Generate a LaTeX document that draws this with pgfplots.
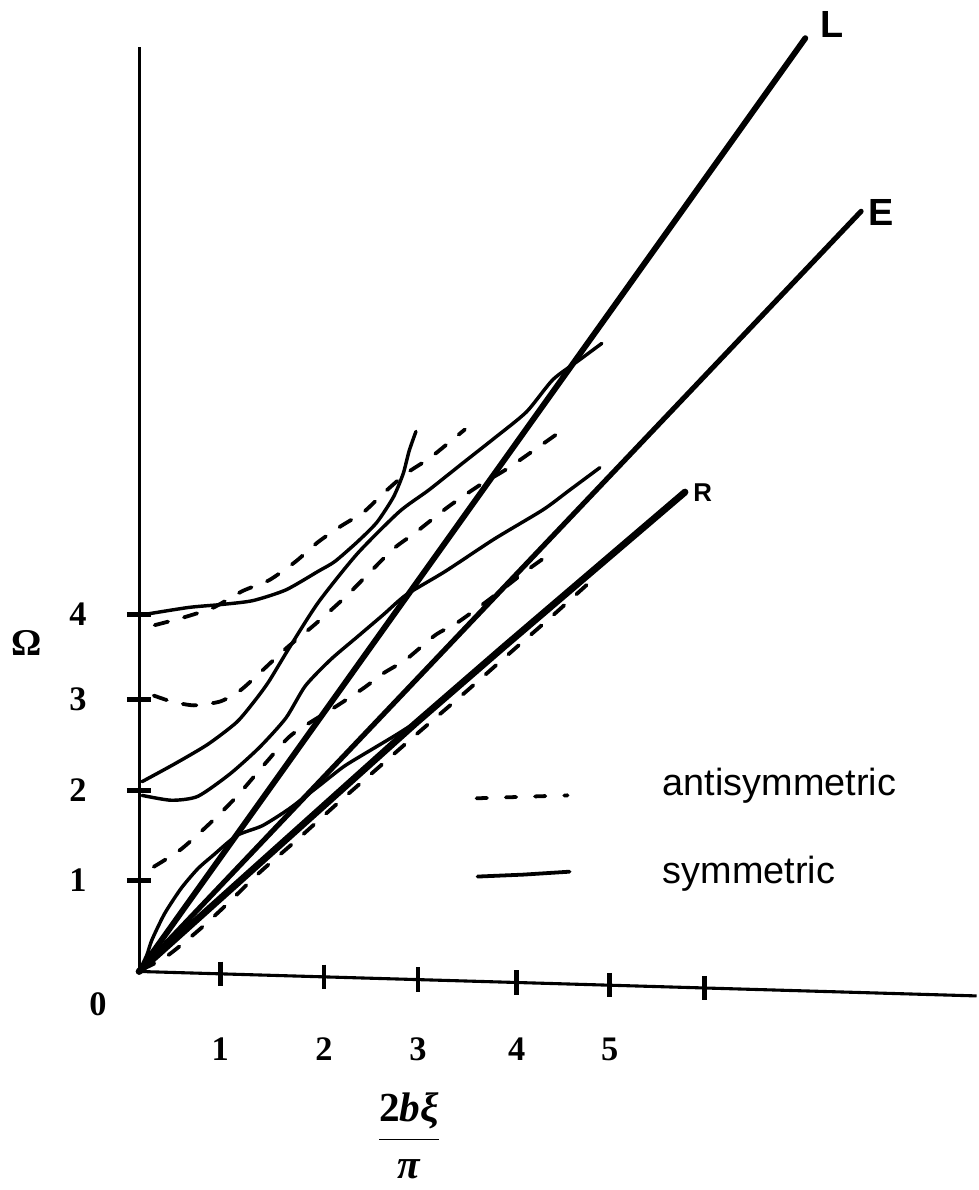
\documentclass[border=0pt]{standalone}
\usepackage{pgfplots}
\pgfplotsset{compat=1.18}
\usepackage{fontspec}
\setmainfont{Liberation Serif}
\newfontfamily\sansf{Liberation Sans}

\begin{document}
\begin{tikzpicture}
\begin{axis}[
  x=1cm, y=1cm,
  xmin=0, xmax=8.56, ymin=0, ymax=9.45,
  enlargelimits=false,
  axis lines=left,
  axis line style={-, line width=0.9pt},
  x axis line style={draw=none},
  clip=false,
  tick align=center,
  major tick length=0.25cm,
  tick style={line width=1.3pt, black},
  xtick style={draw=none},
  xtick={0.83,1.89,2.85,3.86,4.81,5.78},
  xticklabels={1,2,3,4,5,{}},
  ytick={0.93,1.85,2.78,3.65},
  yticklabels={1,2,3,4},
  ticklabel style={font=\fontsize{10}{12}\selectfont\bfseries, anchor=center},
  xticklabel style={yshift=-0.67cm},
  yticklabel style={xshift=-0.5cm},
  every axis plot/.append style={black, line cap=round, line join=round},
  sym/.style={line width=1pt, smooth, tension=0.4},
  anti/.style={line width=1.1pt, smooth, tension=0.4, dash pattern=on 4pt off 4.8pt},
]

% hand-drawn x axis, slightly tilted, with its ticks
\addplot[line width=0.9pt, line cap=butt] coordinates {(0,0) (8.56,-0.25)};
\addplot[only marks, mark=|, mark size=0.125cm, mark options={line width=1.3pt, line cap=butt}]
  coordinates {(0.83,-0.024) (1.89,-0.055) (2.85,-0.083) (3.86,-0.113) (4.81,-0.140) (5.78,-0.169)};

% straight lines L, E, R
\addplot[line width=1.7pt] coordinates {(0,0) (6.81,9.54)};
\addplot[line width=1.5pt] coordinates {(0,0) (7.38,7.77)};
\addplot[line width=2pt] coordinates {(0,0) (2.83,2.54) (3.73,3.32) (5.58,4.90)};

% symmetric modes
\addplot[sym] coordinates {(0,3.64) (0.5,3.72) (0.83,3.75) (1.16,3.79) (1.5,3.90) (1.83,4.09) (2.0,4.19) (2.23,4.39) (2.43,4.59) (2.6,4.85) (2.7,5.09) (2.76,5.32) (2.83,5.52)};
\addplot[sym] coordinates {(0.03,1.94) (0.36,2.12) (0.7,2.32) (1.0,2.55) (1.2,2.79) (1.33,2.97) (1.53,3.30) (1.83,3.77) (2.23,4.27) (2.66,4.70) (2.96,4.92) (3.3,5.19) (3.63,5.45) (3.96,5.72) (4.23,6.05) (4.5,6.25) (4.73,6.42)};
\addplot[sym] coordinates {(0.03,1.80) (0.33,1.75) (0.6,1.79) (0.93,2.02) (1.23,2.29) (1.5,2.59) (1.7,2.92) (1.96,3.19) (2.23,3.42) (2.5,3.65) (2.73,3.85) (3.13,4.09) (3.63,4.42) (4.13,4.72) (4.4,4.92) (4.71,5.15)};
\addplot[sym] coordinates {(0,0) (0.08,0.17) (0.13,0.32) (0.26,0.59) (0.43,0.85) (0.6,1.05) (0.76,1.19) (1.0,1.39) (1.26,1.49) (1.53,1.66) (1.83,1.89) (2.1,2.10) (2.43,2.30) (2.63,2.42) (2.83,2.55) (3.03,2.71)};

% antisymmetric modes
\addplot[anti] coordinates {(0.16,3.54) (0.46,3.62) (0.76,3.72) (1.06,3.89) (1.33,4.0) (1.6,4.19) (1.83,4.39) (2.06,4.55) (2.3,4.70) (2.5,4.89) (2.73,5.09) (2.96,5.24) (3.16,5.40) (3.33,5.54)};
\addplot[anti] coordinates {(0.15,2.82) (0.33,2.76) (0.56,2.72) (0.83,2.76) (1.03,2.87) (1.2,3.02) (1.5,3.30) (1.8,3.55) (2.1,3.82) (2.3,4.02) (2.6,4.32) (2.83,4.49) (3.16,4.75) (3.48,4.97) (3.78,5.15) (4.28,5.50)};
\addplot[anti] coordinates {(0.15,1.07) (0.43,1.25) (0.73,1.52) (1.0,1.79) (1.31,2.15) (1.56,2.42) (2.03,2.72) (2.3,2.90) (2.5,3.05) (2.73,3.19) (3.03,3.44) (3.26,3.57) (3.63,3.84) (3.95,4.09) (4.23,4.29)};
\addplot[anti] coordinates {(0.03,0.02) (0.23,0.12) (0.38,0.23) (0.63,0.44) (0.88,0.67) (1.23,1.01) (1.63,1.36) (2.03,1.72) (2.43,2.07) (2.83,2.42) (3.33,2.85) (3.83,3.29) (4.23,3.64) (4.63,4.0)};

% key samples
\addplot[line width=1.1pt, dash pattern=on 3pt off 5.5pt] coordinates {(3.45,1.77) (4.38,1.80)};
\addplot[line width=1.1pt] coordinates {(3.46,0.97) (3.93,0.99) (4.40,1.02)};

\node[anchor=west, font=\sansf\fontsize{11}{13}\selectfont] at (axis cs:5.23,1.90) {antisymmetric};
\node[anchor=west, font=\sansf\fontsize{11}{13}\selectfont] at (axis cs:5.23,1.00) {symmetric};

\node[font=\sansf\bfseries\fontsize{11}{13}\selectfont] at (axis cs:7.08,9.68) {L};
\node[font=\sansf\bfseries\fontsize{11}{13}\selectfont] at (axis cs:7.58,7.76) {E};
\node[font=\sansf\bfseries\fontsize{7.5}{9}\selectfont] at (axis cs:5.76,4.89) {R};

\node[font=\fontsize{11}{13}\selectfont\bfseries] at (axis cs:-1.15,3.36) {Ω};
\node[font=\fontsize{10}{12}\selectfont\bfseries] at (axis cs:-0.42,-0.33) {0};
\node[font=\fontsize{12}{14}\selectfont] at (axis cs:2.76,-1.68)
  {$\displaystyle\frac{\textbf{2}\textbf{\textit{bξ}}}{\textbf{\textit{π}}}$};

% frame of the whole picture
\path (axis cs:-1.37,-1.98) rectangle (axis cs:8.56,9.92);
\end{axis}
\end{tikzpicture}
\end{document}
